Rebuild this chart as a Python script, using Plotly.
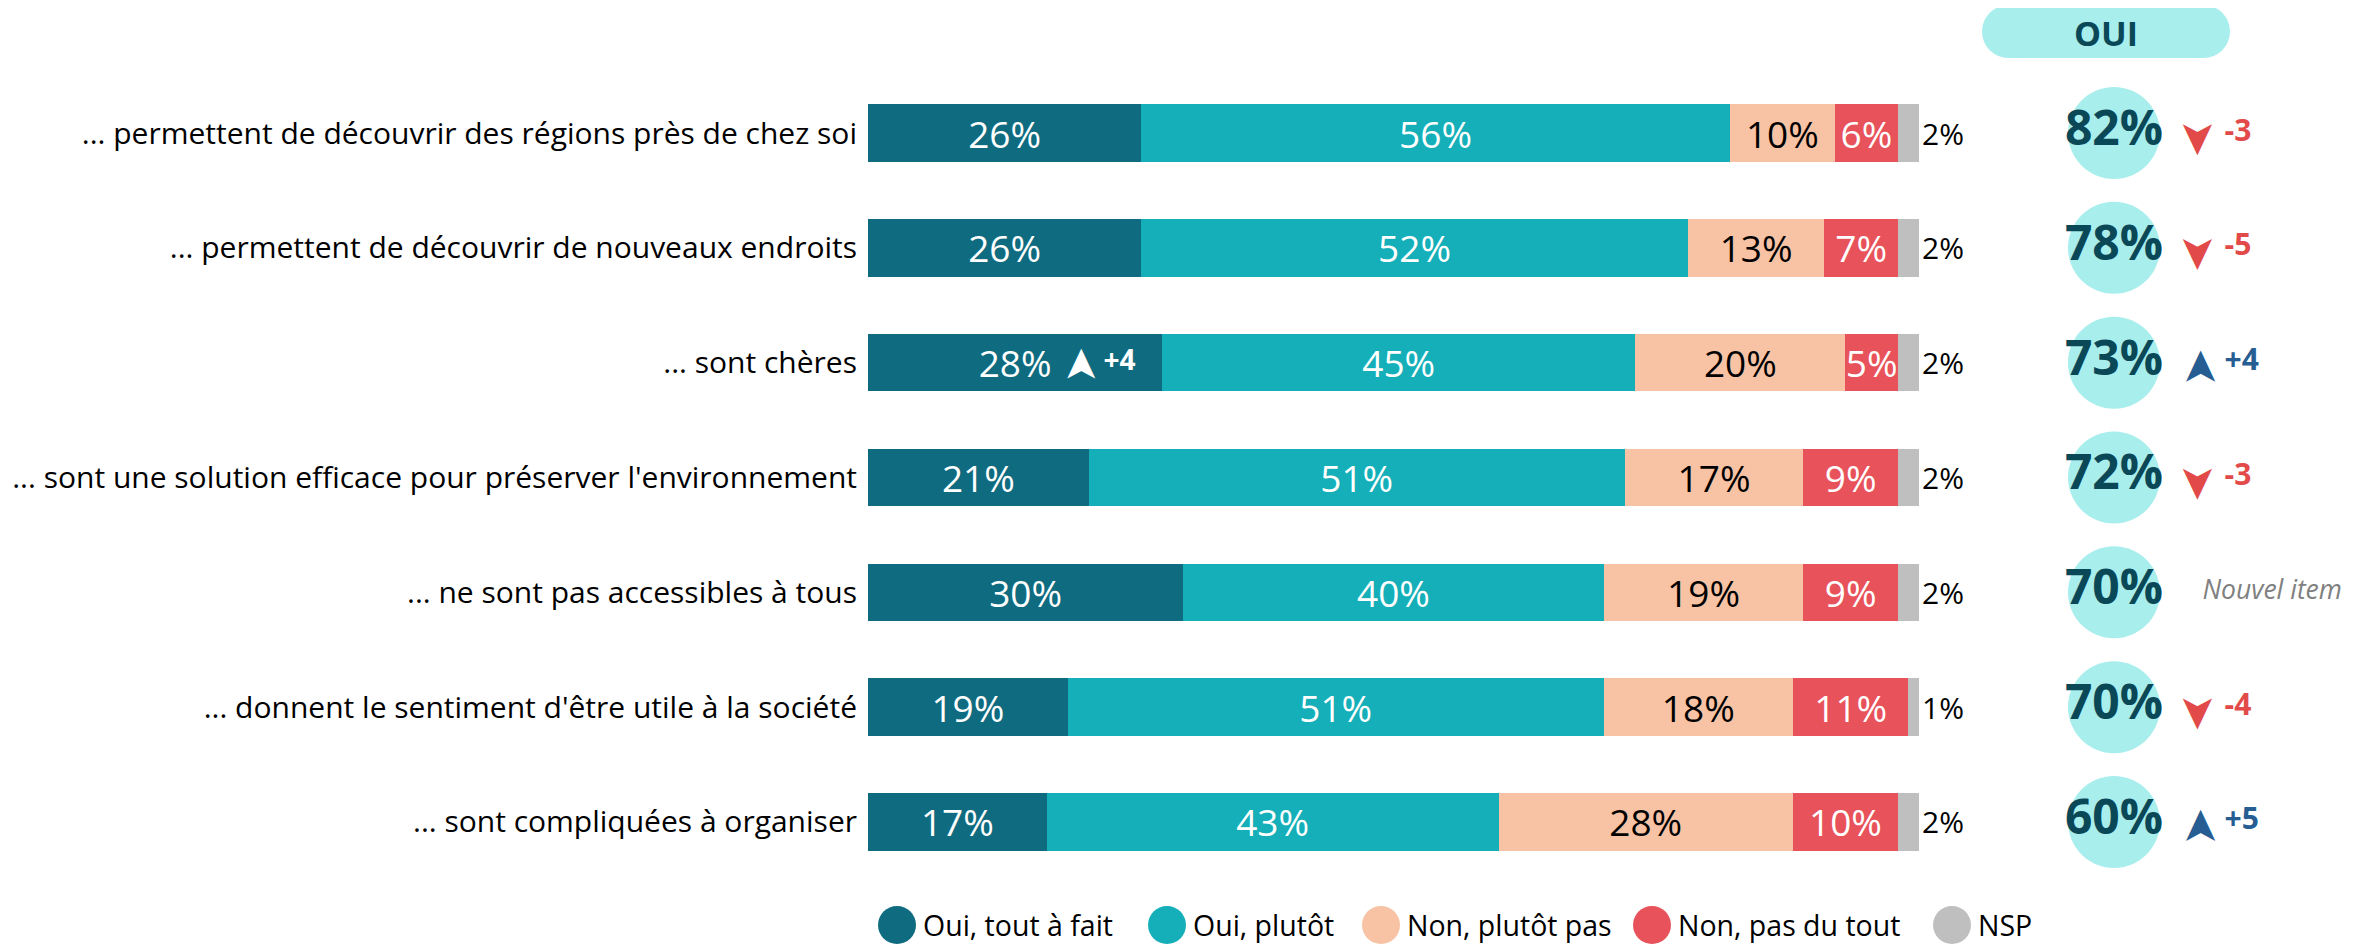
import plotly.graph_objects as go

W, H = 2369, 947
OFF = 8  # marge par défaut du <body> de la page
FW, FH = W - OFF, H - OFF

# Données
categories = [
    "... permettent de découvrir des régions près de chez soi",
    "... permettent de découvrir de nouveaux endroits",
    "... sont chères",
    "... sont une solution efficace pour préserver l'environnement",
    "... ne sont pas accessibles à tous",
    "... donnent le sentiment d'être utile à la société",
    "... sont compliquées à organiser",
]
oui_tout_a_fait = [26, 26, 28, 21, 30, 19, 17]
oui_plutot = [56, 52, 45, 51, 40, 51, 43]
non_plutot_pas = [10, 13, 20, 17, 19, 18, 28]
non_pas_du_tout = [6, 7, 5, 9, 9, 11, 10]
nsp = [2, 2, 2, 2, 2, 1, 2]
total_oui = [82, 78, 73, 72, 70, 70, 60]
evolution_oui = [-3, -5, 4, -3, None, -4, 5]   # None = nouvel item
evolution_tout_a_fait = [None, None, 4, None, None, None, None]

series_names = ["Oui, tout à fait", "Oui, plutôt", "Non, plutôt pas", "Non, pas du tout", "NSP"]
series_values = [oui_tout_a_fait, oui_plutot, non_plutot_pas, non_pas_du_tout, nsp]
series_colors = ["#0f6b80", "#14afb8", "#f7c3a4", "#e8525a", "#bfbfbf"]
text_colors = ["white", "white", "black", "white", "black"]

FONT = "Open Sans"
RED = "#e24a4a"
BLUE = "#265d92"
DARK = "#0a4858"
CIRCLE = "#a8eeed"
ARROW = "\u27a4"


def pxx(p):
    return (p - OFF) / FW


def pxy(p):
    return 1 - (p - OFF) / FH


def sign(v):
    return f"+{v}" if v > 0 else f"{v}"


fig = go.Figure()
annotations = []

# Barres empilées
for name, vals, color, tcol in zip(series_names, series_values, series_colors, text_colors):
    last = name == "NSP"
    fig.add_trace(go.Bar(
        y=categories, x=vals, orientation="h", name=name,
        marker=dict(color=color, line=dict(width=0)),
        width=0.5,
        text=[f"{v}%" for v in vals],
        textposition="outside" if last else "inside",
        insidetextanchor="middle",
        textangle=0,
        constraintext="none",
        textfont=dict(family=FONT, size=30 if last else 37, color=tcol),
        cliponaxis=False,
        showlegend=False,
        hoverinfo="skip",
    ))

# Évolution dans la barre "Oui, tout à fait"
ev_idx = [i for i, e in enumerate(evolution_tout_a_fait) if e is not None]
for i in ev_idx:
    annotations.append(dict(
        x=oui_tout_a_fait[i] * 0.72, y=categories[i], xref="x", yref="y", yshift=-2,
        text=ARROW, textangle=-90 if evolution_tout_a_fait[i] > 0 else 90,
        showarrow=False, xanchor="center", yanchor="middle",
        font=dict(family="DejaVu Sans", size=44, color="white"),
    ))
fig.add_trace(go.Scatter(
    x=[oui_tout_a_fait[i] * 0.8 for i in ev_idx],
    y=[categories[i] for i in ev_idx],
    mode="text",
    text=[f"<b>{sign(evolution_tout_a_fait[i])}</b>" for i in ev_idx],
    textposition="middle right",
    textfont=dict(family=FONT, size=28, color="white"),
    showlegend=False, hoverinfo="skip", cliponaxis=False,
))

# Colonne OUI
fig.add_trace(go.Scatter(
    x=[0] * len(categories), y=categories, xaxis="x2", yaxis="y",
    mode="markers+text",
    marker=dict(size=92, color=CIRCLE, line=dict(width=0)),
    text=[f"<b>{v}%</b>" for v in total_oui],
    textposition="middle center",
    textfont=dict(family=FONT, size=48, color=DARK),
    showlegend=False, hoverinfo="skip", cliponaxis=False,
))

known = [i for i, e in enumerate(evolution_oui) if e is not None]
for i in known:
    up = evolution_oui[i] > 0
    annotations.append(dict(
        x=1, y=categories[i], xref="x2", yref="y", yshift=-5,
        text=ARROW, textangle=-90 if up else 90,
        showarrow=False, xanchor="center", yanchor="middle",
        font=dict(family="DejaVu Sans", size=46, color=BLUE if up else RED),
    ))
fig.add_trace(go.Scatter(
    x=[1.3] * len(known), y=[categories[i] for i in known], xaxis="x2", yaxis="y",
    mode="text",
    text=[f"<b>{sign(evolution_oui[i])}</b>" for i in known],
    textposition="middle right",
    textfont=dict(family=FONT, size=30, color=[BLUE if evolution_oui[i] > 0 else RED for i in known]),
    showlegend=False, hoverinfo="skip", cliponaxis=False,
))
new = [i for i, e in enumerate(evolution_oui) if e is None]
fig.add_trace(go.Scatter(
    x=[1.04] * len(new), y=[categories[i] for i in new], xaxis="x2", yaxis="y",
    mode="text",
    text=["<i>Nouvel item</i>"] * len(new),
    textposition="middle right",
    textfont=dict(family=FONT, size=26.5, color="#808080"),
    showlegend=False, hoverinfo="skip", cliponaxis=False,
))

# En-tête "OUI" (pilule)
shapes = []
x0, x1, y0, y1 = 1982, 2230, 5, 58
r = (y1 - y0) / 2
shapes.append(dict(type="rect", xref="paper", yref="paper",
                   x0=pxx(x0 + r), x1=pxx(x1 - r), y0=pxy(y1), y1=pxy(y0),
                   fillcolor=CIRCLE, line=dict(width=0), layer="below"))
for cx in (x0 + r, x1 - r):
    shapes.append(dict(type="circle", xref="paper", yref="paper",
                       x0=pxx(cx - r), x1=pxx(cx + r), y0=pxy(y1), y1=pxy(y0),
                       fillcolor=CIRCLE, line=dict(width=0), layer="below"))

annotations.append(dict(text="<b>OUI</b>", xref="paper", yref="paper",
                        x=pxx((x0 + x1) / 2), y=pxy((y0 + y1) / 2 + 1),
                        xanchor="center", yanchor="middle",
                        showarrow=False, font=dict(family=FONT, size=34, color=DARK)))

# Légende
legend_x = [897, 1167, 1381, 1652, 1952]
legend_y = 925
for lx, name, color in zip(legend_x, series_names, series_colors):
    shapes.append(dict(type="circle", xref="paper", yref="paper",
                       xsizemode="pixel", ysizemode="pixel",
                       xanchor=pxx(lx), yanchor=pxy(legend_y),
                       x0=-19, x1=19, y0=-19, y1=19,
                       fillcolor=color, line=dict(width=0)))
    annotations.append(dict(text=name, xref="paper", yref="paper",
                            x=pxx(lx + 24), y=pxy(legend_y), xanchor="left", yanchor="middle",
                            showarrow=False, font=dict(family=FONT, size=28.5, color="black")))

fig.update_layout(
    width=FW, height=FH,
    margin=dict(l=0, r=0, t=0, b=0),
    paper_bgcolor="white", plot_bgcolor="white",
    barmode="stack",
    showlegend=False,
    font=dict(family=FONT, color="black"),
    xaxis=dict(domain=[pxx(868), pxx(1919)], range=[0, 100], visible=False, fixedrange=True),
    xaxis2=dict(domain=[pxx(2029), 1], range=[-1, 3], anchor="y", visible=False, fixedrange=True),
    yaxis=dict(domain=[pxy(879.4), pxy(75.6)], type="category",
               categoryorder="array", categoryarray=categories,
               range=[len(categories) - 0.5, -0.5],
               showgrid=False, zeroline=False, showline=False,
               ticks="", ticklabelstandoff=10, automargin=False,
               tickfont=dict(family=FONT, size=30, color="black")),
    shapes=shapes,
    annotations=annotations,
)

fig.write_html("out.html")
